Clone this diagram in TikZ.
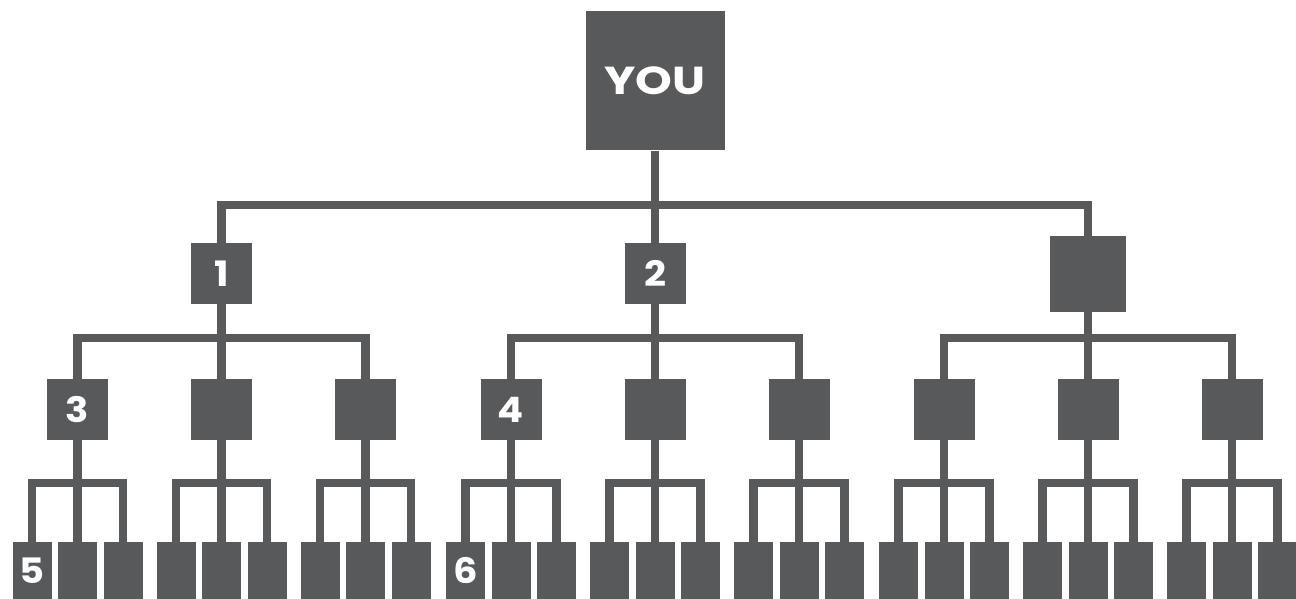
\documentclass[tikz,border=0pt]{standalone}
\usepackage{fontspec}
\newfontfamily\boxfont{Poppins}[FakeStretch=1.1]
\newfontfamily\youfont{Poppins}[FakeStretch=1.2]
\usetikzlibrary{positioning}
\definecolor{boxgray}{HTML}{58595B}

\begin{document}
\begin{tikzpicture}[x=1pt,y=-1pt]
      \tikzset{
        box/.style={fill=boxgray, minimum size=61pt, inner sep=0pt,
          text=white, font=\boxfont\bfseries\fontsize{35}{35}\selectfont},
        leaf/.style={box, minimum width=39pt, minimum height=57pt},
        link/.style={draw=boxgray, line width=8.5pt, line join=miter},
      }
      \useasboundingbox (0,0) rectangle (1296,599);
      % bar heights of the three levels
      \coordinate (y0) at (0,205);
      \coordinate (y1) at (0,338);
      \coordinate (y2) at (0,483);

      \node[box, minimum size=139pt, font=\youfont\bfseries\fontsize{39}{39}\selectfont] (you) at (655,81) {YOU};
      \node[box] (a) at (221.5,273.5) {1};
      \node[box] (b) at (655,273.5) {2};
      \node[box, minimum size=76pt] (c) at (1088,274) {};

      \draw[link] (you.south) -- (b.north);
      \draw[link] (a.north) -- (a.north |- y0) -| (c.north);

      \foreach \p/\x/\m/\n in {a/221.5/3/5, b/655/4/6, c/1088//} {
        \foreach \i/\dx in {1/-144, 2/0, 3/144} {
          \node[box] (\p\i) at (\x+\dx,409.5) {\ifnum\i=1 \m\fi};
          \foreach \j/\ex in {1/-45.5, 2/0, 3/45.5}
            \node[leaf] (\p\i\j) at (\x+\dx+\ex,570.5) {\ifnum\i\j=11 \n\fi};
          \draw[link] (\p\i.south) -- (\p\i2.north);
          \draw[link] (\p\i1.north) -- (\p\i1.north |- y2) -| (\p\i3.north);
        }
        \draw[link] (\p.south) -- (\p2.north);
        \draw[link] (\p1.north) -- (\p1.north |- y1) -| (\p3.north);
      }
\end{tikzpicture}
\end{document}
